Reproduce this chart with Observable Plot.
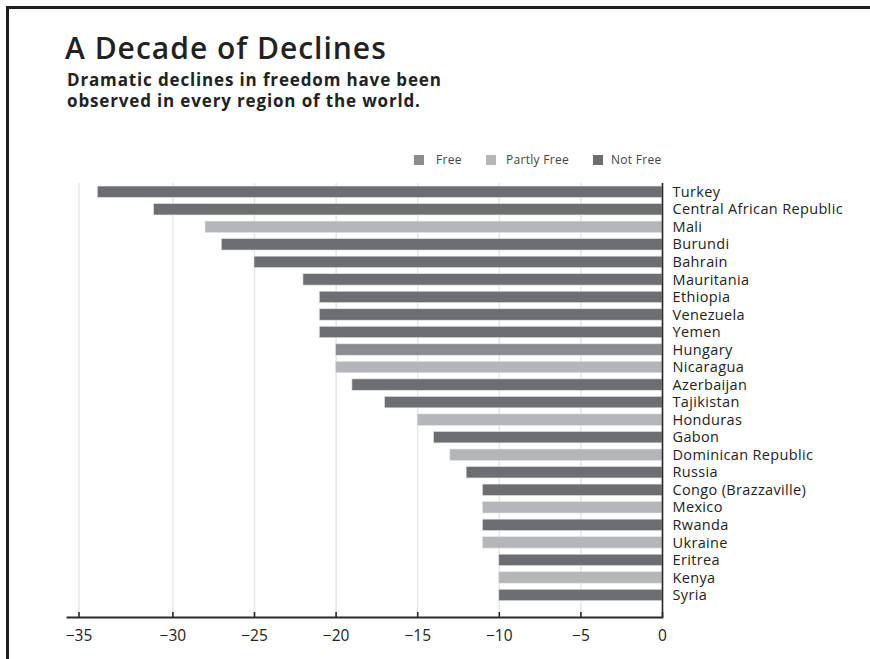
<!DOCTYPE html>
<html><head><meta charset="utf-8">
<script src="https://cdn.jsdelivr.net/npm/d3@7"></script>
<script src="https://cdn.jsdelivr.net/npm/@observablehq/plot@0.6"></script>
<style>
body{margin:0;background:#fff;}
#wrap{position:relative;width:870px;height:659px;overflow:hidden;font-family:"Open Sans",Lato,sans-serif;color:#222;}
#frame{position:absolute;left:6px;top:6px;width:900px;height:700px;border-top:3px solid #1e1e1e;border-left:3px solid #1e1e1e;}
#title{position:absolute;left:65px;top:27px;font-size:30px;font-weight:600;white-space:nowrap;letter-spacing:1px;}
#sub{position:absolute;left:67px;top:69px;font-size:17px;font-weight:700;line-height:21px;white-space:nowrap;letter-spacing:0.85px;}
#legend{position:absolute;left:0;top:152px;font-size:12px;color:#444;white-space:nowrap;letter-spacing:0.3px;}
#legend .sw{position:absolute;top:3px;width:10px;height:10px;}
#legend .tx{position:absolute;top:0;line-height:16px;}
#chart{position:absolute;left:0;top:170px;}
#chart g[aria-label="y-axis tick label"] text{letter-spacing:0.35px;}
</style></head>
<body><div id="wrap">
<div id="frame"></div>
<div id="title">A Decade of Declines</div>
<div id="sub">Dramatic declines in freedom have been<br>observed in every region of the world.</div>
<div id="legend"></div>
<div id="chart"></div>
</div>
<script>
const countries = ["Turkey","Central African Republic","Mali","Burundi","Bahrain","Mauritania","Ethiopia","Venezuela","Yemen","Hungary","Nicaragua","Azerbaijan","Tajikistan","Honduras","Gabon","Dominican Republic","Russia","Congo (Brazzaville)","Mexico","Rwanda","Ukraine","Eritrea","Kenya","Syria"];
const declines = [-34,-31,-28,-27,-25,-22,-21,-21,-21,-20,-20,-19,-17,-15,-14,-13,-12,-11,-11,-11,-11,-10,-10,-10];
const statuses = ["Not Free","Not Free","Partly Free","Not Free","Not Free","Not Free","Not Free","Not Free","Not Free","Free","Partly Free","Not Free","Not Free","Partly Free","Not Free","Partly Free","Not Free","Not Free","Partly Free","Not Free","Partly Free","Not Free","Partly Free","Not Free"];
const statusLabels = ["Free","Partly Free","Not Free"];
const statusColors = ["#8b8c8f","#b5b6b9","#6d6e72"];
const xTicks = [-35,-30,-25,-20,-15,-10,-5,0];

const data = countries.map((c,i)=>({country:c, value:declines[i], status:statuses[i]}));

// legend layout positions (px)
const legendPos = [[414,436],[486,506],[593,611]];
const lg = document.getElementById("legend");
statusLabels.forEach((s,i)=>{
  const sw=document.createElement("span");sw.className="sw";sw.style.background=statusColors[i];sw.style.left=legendPos[i][0]+"px";
  const tx=document.createElement("span");tx.className="tx";tx.textContent=s;tx.style.left=legendPos[i][1]+"px";
  lg.appendChild(sw);lg.appendChild(tx);
});

const chart = Plot.plot({
  width: 870,
  height: 489,
  marginLeft: 67,
  marginRight: 208,
  marginTop: 13,
  marginBottom: 42,
  style: {fontFamily: "'Open Sans', Lato, sans-serif", color: "#222", background: "transparent"},
  x: {type: "linear", domain: [-35,-30,0], range: [78.5,172.4,662], ticks: xTicks},
  y: {type: "band", domain: countries, range: [9.9, 436.8], padding: 0.35, round: false},
  color: {domain: statusLabels, range: statusColors},
  marks: [
    Plot.ruleX(xTicks, {stroke: "#e6e6e6", strokeWidth: 1.5}),
    Plot.barX(data, {x: "value", y: "country", fill: "status", stroke: "#e2e2e2", strokeWidth: 0.6}),
    Plot.ruleX([0], {stroke: "#2a2a2a", strokeWidth: 1.6}),
    Plot.frame({anchor: "bottom", stroke: "#2a2a2a", strokeWidth: 1.8}),
    Plot.ruleX(xTicks, {stroke: "#2a2a2a", strokeWidth: 1.6, insetTop: 429}),
    Plot.axisX({ticks: xTicks, tickSize: 0, tickPadding: 12, fontSize: 15.5, tickFormat: d => d < 0 ? "\u2212" + Math.abs(d) : String(d), label: null}),
    Plot.axisY({anchor: "right", tickSize: 0, tickPadding: 10, fontSize: 14.5, fontWeight: 500, label: null})
  ]
});
document.getElementById("chart").appendChild(chart);
</script>
</body></html>
